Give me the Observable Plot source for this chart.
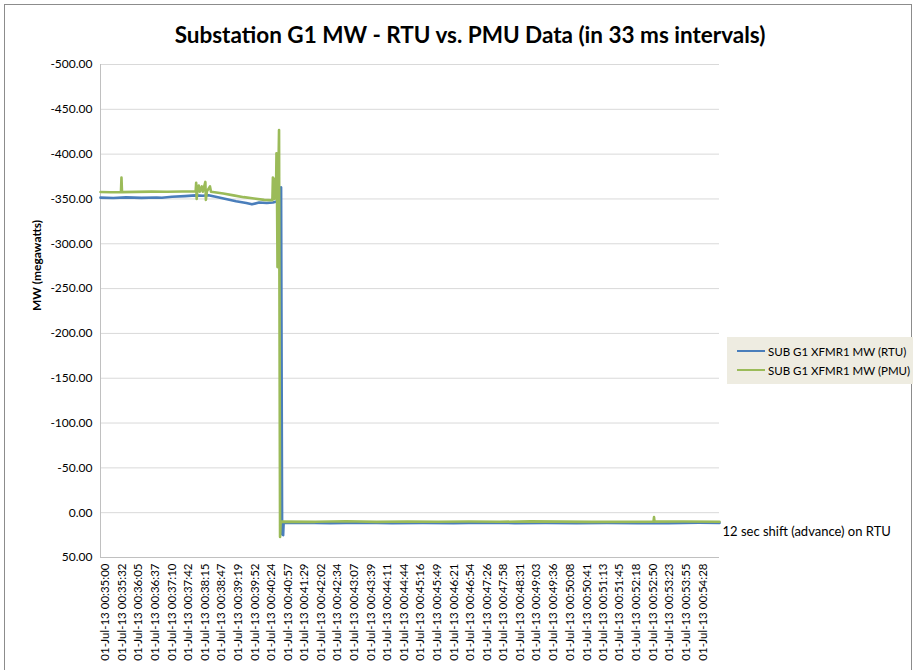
<!DOCTYPE html>
<html>
<head>
<meta charset="utf-8">
<script src="https://cdn.jsdelivr.net/npm/d3@7"></script>
<script src="https://cdn.jsdelivr.net/npm/@observablehq/plot@0.6"></script>
<style>
  body { margin: 0; background: #fff; font-family: Lato, "Open Sans", sans-serif; }
  #wrap { position: relative; width: 917px; height: 670px; overflow: hidden; background: #fff; }
  #frame { position: absolute; left: 4px; top: 4px; width: 908px; height: 680px; border: 1px solid #8c8c8c; box-sizing: border-box; }
  #title { position: absolute; left: 0; width: 940px; top: 21px; text-align: center; font-size: 22.5px; font-weight: bold; color: #000; }
  #chart { position: absolute; left: 0; top: 50px; }
  #legend { position: absolute; left: 727px; top: 337px; width: 186px; height: 47px; background: #eeece1; font-size: 11.5px; color: #000; }
  .entry { position: absolute; left: 10px; height: 14px; display: flex; align-items: center; }
  .swatch { width: 28px; height: 2.5px; margin-right: 3px; }
</style>
</head>
<body>
<div id="wrap">
  <div id="frame"></div>
  <div id="title">Substation G1 MW - RTU vs. PMU Data (in 33 ms intervals)</div>
  <div id="chart"></div>
  <div id="legend"></div>
</div>
<script>
// ---- data ----
const datePrefix = "01-Jul-13";
const seriesNames = ["SUB G1 XFMR1 MW (RTU)", "SUB G1 XFMR1 MW (PMU)"];
const seriesColors = ["#4a7ebb", "#9bbb59"];

const xTickLabels = ["00:35:00","00:35:32","00:36:05","00:36:37","00:37:10","00:37:42","00:38:15","00:38:47","00:39:19","00:39:52","00:40:24","00:40:57","00:41:29","00:42:02","00:42:34","00:43:07","00:43:39","00:44:11","00:44:44","00:45:16","00:45:49","00:46:21","00:46:54","00:47:26","00:47:58","00:48:31","00:49:03","00:49:36","00:50:08","00:50:41","00:51:13","00:51:45","00:52:18","00:52:50","00:53:23","00:53:55","00:54:28"];
const yTicks = [-500,-450,-400,-350,-300,-250,-200,-150,-100,-50,0,50];
const xDomain = ["00:35:00", "00:55:10"];
const yLabel = "MW (megawatts)";
const annotation = "12 sec shift (advance) on RTU";

const rtuTime = ["00:35:00","00:35:25","00:35:50","00:36:20","00:36:50","00:37:00","00:37:20","00:37:45","00:38:06","00:38:20","00:38:31","00:38:45","00:39:05","00:39:25","00:39:45","00:39:56","00:40:10","00:40:25","00:40:37","00:40:50","00:40:53","00:40:55","00:40:57","00:40:58","00:41:30","00:42:30","00:43:30","00:44:30","00:45:30","00:46:30","00:47:30","00:48:30","00:49:30","00:50:30","00:51:30","00:52:30","00:53:30","00:54:30","00:55:10"];
const rtuMW = [-351.5,-351,-351.8,-351.2,-351.6,-351.3,-352.4,-353.2,-354,-353.6,-354.2,-352.5,-350,-347.5,-345.5,-344,-346,-345.5,-346,-348,-363,24,25,11.5,11.3,11.8,11.2,11.6,11.4,11.8,11.3,11.6,11.5,11.7,11.4,11.8,11.6,11.3,11.4];

const pmuTime = ["00:35:00","00:35:20","00:35:40","00:35:41","00:35:42","00:36:10","00:36:40","00:37:10","00:37:40","00:38:06","00:38:07","00:38:08","00:38:09","00:38:12","00:38:14","00:38:18","00:38:20","00:38:25","00:38:26","00:38:28","00:38:34","00:38:36","00:39:00","00:39:20","00:39:40","00:40:00","00:40:20","00:40:36","00:40:37","00:40:39","00:40:40","00:40:43","00:40:44","00:40:45","00:40:46","00:40:47","00:40:49","00:40:51","00:40:52","00:40:54","00:42:00","00:43:00","00:44:00","00:45:00","00:46:00","00:47:00","00:48:00","00:49:00","00:50:00","00:51:00","00:53:01","00:53:02","00:53:03","00:54:00","00:55:10"];
const pmuMW = [-357.8,-357.5,-357.6,-374,-357.6,-357.9,-358.2,-358,-358.4,-358.5,-368,-350,-358,-365,-358,-364,-358,-369,-349,-358.5,-364,-358,-356,-354,-352,-350.5,-349,-348.5,-374,-372,-350,-352,-401,-360,-274,-345,-427,27,12,10,10.2,9.6,10.3,9.8,10.1,9.9,10.2,9.7,10,10.3,10,5,10,9.8,10.1];

// ---- build ----
const T = s => { const [h, m, sec] = s.split(":").map(Number); return new Date(Date.UTC(2013, 6, 1, h, m, sec)); };
const rtu = rtuTime.map((t, i) => ({time: T(t), mw: rtuMW[i]}));
const pmu = pmuTime.map((t, i) => ({time: T(t), mw: pmuMW[i]}));
const xTicks = xTickLabels.map(T);
const fmt = d3.utcFormat("%H:%M:%S");

const chart = Plot.plot({
  width: 917,
  height: 620,
  marginTop: 14,
  marginBottom: 113,
  marginLeft: 100,
  marginRight: 198,
  style: {fontFamily: "Lato, 'Open Sans', sans-serif", fontSize: "11.5px", background: "transparent", overflow: "visible", color: "#000"},
  x: {type: "utc", domain: xDomain.map(T)},
  y: {domain: [yTicks[0], yTicks[yTicks.length - 1]], reverse: true},
  marks: [
    Plot.gridY(yTicks, {stroke: "#d9d9d9", strokeOpacity: 1}),
    Plot.ruleX([T(xDomain[0])], {stroke: "#c0c0c0"}),
    Plot.ruleY([yTicks[yTicks.length - 1]], {stroke: "#c0c0c0"}),
    Plot.axisY(yTicks, {tickSize: 0, tickPadding: 8, tickFormat: d => d.toFixed(2), fontSize: 12, label: null}),
    Plot.text([yLabel], {frameAnchor: "left", rotate: -90, dx: -63, fontWeight: "bold", fontSize: 12, fill: "#000"}),
    Plot.axisX(xTicks, {tickSize: 0, tickPadding: 6, tickRotate: -90, dx: 5, fontSize: 11.5,
      tickFormat: d => datePrefix + " " + fmt(d), label: null}),
    Plot.line(rtu, {x: "time", y: "mw", stroke: seriesColors[0], strokeWidth: 2.6}),
    Plot.line(pmu, {x: "time", y: "mw", stroke: seriesColors[1], strokeWidth: 2.6}),
    Plot.text([rtu[rtu.length - 1]], {x: "time", y: "mw", text: () => annotation, textAnchor: "start", dx: 3, dy: 9, fontSize: 13})
  ]
});
document.getElementById("chart").appendChild(chart);

const legend = document.getElementById("legend");
seriesNames.forEach((name, i) => {
  const e = document.createElement("div");
  e.className = "entry";
  e.style.top = (7 + i * 19) + "px";
  e.innerHTML = `<div class="swatch" style="background:${seriesColors[i]}"></div><span>${name}</span>`;
  legend.appendChild(e);
});
</script>
</body>
</html>
